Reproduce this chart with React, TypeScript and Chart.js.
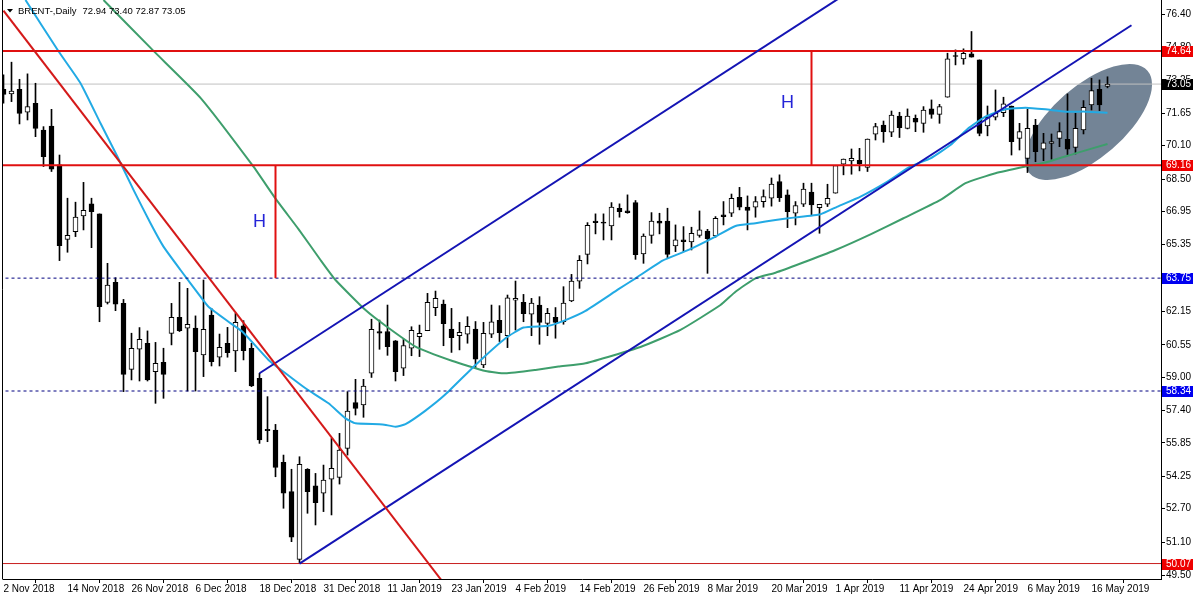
import React, { useEffect, useRef } from "react";
import { Chart, registerables } from "chart.js";

Chart.register(...registerables);

const symbolName = "BRENT-,Daily";

const opens = [
  72.80, 72.58, 72.80, 71.70, 72.13, 70.85, 71.04, 69.18, 65.61, 65.98,
  66.73, 67.31, 66.83, 62.58, 63.55, 62.54, 59.38, 60.34, 60.63, 59.27,
  59.72, 61.10, 61.87, 61.35, 61.35, 60.07, 61.98, 59.96, 60.63, 60.26,
  61.46, 60.39, 58.95, 56.50, 56.47, 54.92, 53.52, 50.27, 54.59, 53.79,
  53.44, 54.11, 54.20, 55.59, 57.78, 57.67, 59.19, 61.19, 61.19, 60.74,
  59.43, 60.39, 60.95, 61.23, 62.34, 62.51, 61.31, 60.99, 61.06, 61.31,
  59.59, 61.06, 61.73, 60.99, 62.69, 62.59, 62.02, 62.46, 61.58, 61.87,
  61.66, 62.66, 63.61, 64.89, 66.49, 66.44, 66.25, 67.10, 66.97, 67.37,
  64.91, 65.80, 66.49, 66.49, 65.29, 65.58, 65.48, 65.80, 66.01, 65.77,
  66.78, 66.86, 67.62, 67.15, 67.15, 67.42, 67.58, 68.38, 67.74, 66.86,
  67.29, 67.87, 67.13, 67.29, 67.82, 69.21, 69.37, 69.40, 69.05, 70.65,
  71.09, 70.74, 71.52, 70.93, 71.41, 71.17, 71.86, 71.60, 72.42, 74.42,
  74.26, 74.50, 74.21, 71.04, 71.46, 71.68, 72.00, 70.45, 69.49, 71.09,
  69.93, 70.21, 70.45, 70.40, 70.02, 70.85, 72.05, 72.80, 72.94,
];
const highs = [
  73.49, 74.10, 73.28, 73.54, 73.09, 71.01, 71.84, 69.65, 67.58, 67.39,
  68.34, 67.58, 66.83, 64.46, 63.77, 62.73, 61.11, 61.38, 61.22, 60.67,
  60.39, 62.54, 63.55, 63.26, 61.94, 63.66, 62.30, 61.07, 61.39, 62.06,
  61.71, 60.63, 59.19, 58.07, 56.74, 55.27, 54.59, 55.19, 54.62, 54.39,
  54.79, 56.07, 56.31, 58.31, 58.90, 58.90, 61.78, 61.74, 62.46, 60.76,
  60.83, 61.42, 61.50, 63.02, 63.13, 62.70, 62.30, 61.63, 61.90, 61.67,
  61.63, 62.46, 62.43, 62.94, 63.61, 62.97, 62.78, 62.86, 62.30, 62.34,
  63.34, 63.93, 64.83, 66.41, 66.83, 66.83, 67.37, 67.31, 67.74, 67.47,
  65.87, 66.89, 66.86, 67.10, 66.30, 66.22, 66.19, 66.97, 66.09, 66.70,
  67.42, 67.78, 68.10, 67.69, 67.66, 67.98, 68.55, 68.70, 67.98, 67.42,
  68.30, 68.30, 67.29, 68.25, 69.14, 69.46, 69.94, 69.97, 70.42, 71.17,
  71.28, 71.76, 71.70, 71.86, 71.57, 71.97, 72.29, 72.08, 74.53, 74.69,
  74.74, 75.57, 74.21, 72.00, 72.77, 72.42, 72.00, 71.17, 71.84, 71.36,
  70.69, 70.66, 71.20, 72.58, 71.65, 72.26, 73.33, 73.25, 73.40,
];
const lows = [
  72.13, 72.21, 71.14, 71.33, 70.53, 69.10, 68.86, 64.59, 64.99, 65.74,
  66.06, 65.21, 61.66, 62.51, 62.19, 58.31, 58.87, 58.82, 58.82, 57.75,
  57.99, 60.55, 61.19, 58.34, 58.34, 59.03, 59.54, 59.54, 59.96, 59.27,
  59.83, 58.55, 55.83, 55.91, 54.23, 52.72, 51.12, 50.07, 52.48, 51.92,
  52.56, 52.40, 53.88, 55.27, 57.19, 57.08, 58.99, 60.34, 60.05, 58.82,
  59.08, 60.03, 59.99, 61.23, 61.95, 60.51, 60.19, 60.31, 60.63, 59.46,
  59.46, 60.90, 60.71, 60.42, 61.26, 61.66, 60.99, 60.58, 60.99, 60.87,
  61.54, 62.62, 63.26, 64.43, 65.87, 65.58, 65.58, 66.67, 66.86, 64.65,
  64.46, 65.42, 65.87, 64.69, 65.02, 65.02, 65.10, 65.71, 63.98, 65.71,
  66.30, 66.70, 67.02, 66.06, 66.67, 67.15, 67.20, 67.42, 66.17, 66.30,
  67.18, 66.78, 65.90, 67.18, 67.82, 68.70, 68.73, 68.89, 68.86, 70.37,
  70.26, 70.53, 70.49, 70.90, 70.77, 70.74, 71.41, 71.17, 72.42, 73.97,
  74.00, 74.34, 70.57, 70.57, 71.33, 71.49, 69.65, 69.89, 68.81, 69.33,
  69.38, 69.45, 70.05, 69.65, 69.70, 70.66, 71.81, 71.78, 72.87,
];
const closes = [
  72.56, 72.71, 71.65, 71.97, 70.93, 69.57, 68.97, 65.31, 65.80, 66.67,
  67.00, 66.94, 62.38, 63.42, 62.50, 59.14, 60.39, 60.82, 58.87, 59.67,
  59.14, 61.87, 61.23, 61.54, 60.23, 61.30, 59.75, 60.43, 60.18, 61.63,
  60.27, 58.58, 55.99, 56.44, 54.68, 53.44, 51.33, 54.82, 53.52, 52.99,
  54.07, 54.63, 55.51, 57.38, 57.51, 58.58, 61.30, 61.11, 60.47, 59.27,
  60.52, 61.25, 61.11, 62.59, 62.78, 61.57, 60.90, 61.15, 61.44, 59.87,
  61.11, 61.66, 61.14, 62.81, 62.78, 62.05, 62.56, 61.63, 62.06, 61.63,
  62.56, 63.61, 64.60, 66.28, 66.41, 66.38, 67.15, 66.94, 66.89, 64.88,
  65.77, 66.49, 66.38, 64.89, 65.58, 65.50, 65.90, 66.06, 65.64, 66.62,
  66.70, 67.58, 67.15, 66.99, 67.42, 67.66, 68.26, 67.61, 66.94, 67.23,
  68.02, 67.26, 67.29, 67.58, 69.14, 69.46, 69.49, 69.24, 70.42, 71.01,
  70.77, 71.57, 70.96, 71.52, 71.22, 71.81, 71.60, 71.97, 74.26, 74.37,
  74.53, 74.34, 70.69, 71.46, 71.65, 72.10, 70.29, 70.77, 70.93, 69.81,
  70.24, 70.29, 70.77, 69.93, 70.93, 71.94, 72.74, 72.05, 73.05,
];

const dateLabels = [
  "2 Nov 2018", "14 Nov 2018", "26 Nov 2018", "6 Dec 2018", "18 Dec 2018",
  "31 Dec 2018", "11 Jan 2019", "23 Jan 2019", "4 Feb 2019", "14 Feb 2019",
  "26 Feb 2019", "8 Mar 2019", "20 Mar 2019", "1 Apr 2019", "11 Apr 2019",
  "24 Apr 2019", "6 May 2019", "16 May 2019",
];
const dateLabelBars = [0, 8, 16, 24, 32, 40, 48, 56, 64, 72, 80, 88, 96, 104, 112, 120, 128, 136];

const priceTicks = [
  49.5, 51.1, 52.7, 54.25, 55.85, 57.4, 59.0, 60.55, 62.15, 63.75,
  65.35, 66.95, 68.5, 70.1, 71.65, 73.25, 74.8, 76.4,
];

// fast moving average (light blue)
const fastMaBars = [
  2.75, 6.875, 9.625, 12.125, 14.25, 16.25, 18.375, 20, 22.125, 24.625, 25.625,
  28.125, 29.875, 33.125, 35.25, 37.75, 40.625, 42.75, 44, 47.375, 49, 50.25, 52.75,
  55.25, 59, 62.75, 65, 68.125, 70.25, 72.75, 76.875, 79, 82.375, 85.625, 89, 91.5,
  94, 96.5, 98.75, 102.125, 104.25, 107.125, 110.5, 113.375, 115.875, 118.375, 120.5,
  122.75, 125.25, 127.75, 130.25, 132.75, 135.25, 138,
];
const fastMaValues = [
  77.08, 74.62, 73.09, 71.17, 69.57, 67.98, 66.38, 65.26, 64.14, 62.86, 62.38,
  61.66, 61.18, 59.83, 59.19, 58.47, 57.75, 57.03, 56.79, 56.74, 56.63, 56.75, 57.4,
  58.18, 59.59, 60.87, 61.38, 61.47, 61.74, 62.18, 63.22, 63.74, 64.59, 65.1, 65.74, 66.25,
  66.38, 66.54, 66.65, 66.81, 67.18, 67.66, 68.38, 69.1, 69.49, 70.13, 70.9,
  71.49, 71.84, 71.92, 71.84, 71.73, 71.73, 71.68,
];

// slow moving average (green)
const slowMaBars = [
  12.5, 18.75, 24.625, 31.25, 34, 36.875, 39.625, 41.5, 45.25, 47.75, 51.5, 56.125,
  60.25, 62.75, 66.5, 69.375, 72.75, 79.625, 84.625, 89.625, 91.5, 94, 96.5, 99.625,
  104, 108.375, 112.5, 117.125, 120.25, 124, 127.75, 130.25, 134, 138,
];
const slowMaValues = [
  77.08, 74.64, 72.39, 69.09, 67.56, 66.1, 64.62, 63.66, 62.22, 61.47, 60.47, 59.78,
  59.3, 59.19, 59.35, 59.51, 59.67, 60.45, 61.27, 62.46, 63.1, 63.74, 64.01, 64.45,
  65.1, 65.85, 66.62, 67.5, 68.3, 68.78, 69.1, 69.29, 69.73, 70.18,
];

// horizontal levels
const resistanceLevels = [74.64, 69.16];
const supportLow = 50.07;
const lastPrice = 73.05;
const dottedLevels = [63.75, 58.34];

// trend lines: [startBar, startPrice, endBar, endPrice]
const redTrend = [0, 76.57, 60, 46.65];
const upperChannel = [32, 59.19, 110, 78.54];
const lowerChannel = [37, 50.07, 141, 75.87];
// height markers: [bar, fromPrice, toPrice]
const heightMarkerA = [34, 63.75, 69.16];
const heightMarkerB = [101, 69.16, 74.64];
const heightLabelBars = [32, 98];
const heightLabelPrices = [66.44, 72.15];

// highlighted zone (ellipse): major axis end points
const ellipseBars = [128.25, 143];
const ellipsePrices = [68.78, 73.69];
const ellipseRatio = 0.46;

const axisBoxes = [
  { value: 74.64, color: "#EE0000" },
  { value: 73.05, color: "#000000" },
  { value: 69.16, color: "#EE0000" },
  { value: 63.75, color: "#0000F0" },
  { value: 58.34, color: "#0000F0" },
  { value: 50.07, color: "#EE0000" },
];

const FONT = '"Liberation Sans", Arial, sans-serif';

function seg(a: number[], color: string, width: number, order: number, dash?: number[]) {
  return {
    type: "line" as const,
    data: [
      { x: a[0], y: a[1] },
      { x: a[2], y: a[3] },
    ],
    borderColor: color,
    borderWidth: width,
    borderDash: dash || [],
    pointRadius: 0,
    fill: false,
    order,
  };
}

export default function App() {
  const ref = useRef<HTMLCanvasElement>(null);

  useEffect(() => {
    const canvas = ref.current;
    if (!canvas) return;
    const bars = opens.map((_, i) => i);
    const last = opens.length - 1;
    const ohlcText = [opens[last], highs[last], lows[last], closes[last]].map((v) => v.toFixed(2)).join(" ");

    const overlay = {
      id: "overlay",
      beforeDatasetsDraw(chart: any) {
        const { ctx, chartArea, scales } = chart;
        const xs = scales.x;
        const ys = scales.y;
        ctx.save();
        ctx.beginPath();
        ctx.rect(chartArea.left, chartArea.top, chartArea.right - chartArea.left, chartArea.bottom - chartArea.top);
        ctx.clip();
        const x1 = xs.getPixelForValue(ellipseBars[0]);
        const y1 = ys.getPixelForValue(ellipsePrices[0]);
        const x2 = xs.getPixelForValue(ellipseBars[1]);
        const y2 = ys.getPixelForValue(ellipsePrices[1]);
        const a = Math.hypot(x2 - x1, y2 - y1) / 2;
        ctx.beginPath();
        ctx.ellipse((x1 + x2) / 2, (y1 + y2) / 2, a, a * ellipseRatio, Math.atan2(y2 - y1, x2 - x1), 0, Math.PI * 2);
        ctx.fillStyle = "#738496";
        ctx.fill();
        ctx.restore();
      },
      afterDatasetsDraw(chart: any) {
        const { ctx, scales } = chart;
        ctx.save();
        ctx.font = `18px ${FONT}`;
        ctx.fillStyle = "#2424D8";
        ctx.textAlign = "center";
        ctx.textBaseline = "middle";
        heightLabelBars.forEach((b, k) => {
          ctx.fillText("H", scales.x.getPixelForValue(b), scales.y.getPixelForValue(heightLabelPrices[k]));
        });
        ctx.restore();
      },
      afterDraw(chart: any) {
        const { ctx, chartArea, scales } = chart;
        ctx.save();
        // left frame
        ctx.strokeStyle = "#000";
        ctx.lineWidth = 1;
        ctx.beginPath();
        ctx.moveTo(chartArea.left - 0.5, chartArea.top);
        ctx.lineTo(chartArea.left - 0.5, chartArea.bottom + 0.5);
        ctx.stroke();
        // title
        ctx.fillStyle = "#000";
        ctx.beginPath();
        ctx.moveTo(7, 9);
        ctx.lineTo(13, 9);
        ctx.lineTo(10, 12.5);
        ctx.closePath();
        ctx.fill();
        ctx.font = `9.5px ${FONT}`;
        ctx.textBaseline = "middle";
        ctx.textAlign = "left";
        ctx.fillText(symbolName, 18, 11);
        const w = ctx.measureText(symbolName).width;
        ctx.fillText(ohlcText, 18 + w + 6, 11);
        // axis boxes
        ctx.font = `10px ${FONT}`;
        const left = chartArea.right + 1;
        axisBoxes.forEach((b) => {
          const yp = Math.round(scales.y.getPixelForValue(b.value));
          ctx.fillStyle = b.color;
          ctx.fillRect(left, yp - 5, 31, 11);
          ctx.fillStyle = "#fff";
          ctx.fillText(b.value.toFixed(2), left + 4, yp + 0.5);
        });
        ctx.restore();
      },
    };

    const gridCfg = {
      display: true,
      drawOnChartArea: false,
      drawTicks: true,
      tickLength: 4,
      color: "#000",
      tickColor: "#000",
    };

    const chart = new Chart(canvas, {
      type: "bar",
      data: {
        datasets: [
          // trend lines on top
          seg(redTrend, "#D41A1A", 2, 0),
          seg(upperChannel, "#1414B4", 2, 0),
          seg(lowerChannel, "#1414B4", 2, 0),
          seg([heightMarkerA[0], heightMarkerA[1], heightMarkerA[0], heightMarkerA[2]], "#E01010", 2, 0),
          seg([heightMarkerB[0], heightMarkerB[1], heightMarkerB[0], heightMarkerB[2]], "#E01010", 2, 0),
          ...resistanceLevels.map((v) => seg([-2, v, 150, v], "#E01010", 2, 0)),
          seg([-2, supportLow, 150, supportLow], "#C81E1E", 1, 0),
          ...dottedLevels.map((v) => seg([-2, v, 150, v], "#000080", 1, 0, [3, 3])),
          // moving averages
          {
            type: "line" as const,
            data: fastMaBars.map((b, k) => ({ x: b, y: fastMaValues[k] })),
            borderColor: "#22AAE4",
            borderWidth: 2,
            pointRadius: 0,
            tension: 0.15,
            fill: false,
            order: 1,
          },
          {
            type: "line" as const,
            data: slowMaBars.map((b, k) => ({ x: b, y: slowMaValues[k] })),
            borderColor: "#3E9E6C",
            borderWidth: 2,
            pointRadius: 0,
            tension: 0.15,
            fill: false,
            order: 1,
          },
          // candle bodies
          {
            type: "bar" as const,
            data: bars.map((i) => ({ x: i, y: [opens[i], closes[i]] })),
            backgroundColor: bars.map((i) => (closes[i] >= opens[i] ? "#FFFFFF" : "#000000")),
            borderColor: "#000",
            borderWidth: 1,
            borderSkipped: false,
            barThickness: 5,
            grouped: false,
            order: 2,
          },
          // wicks
          {
            type: "bar" as const,
            data: bars.map((i) => ({ x: i, y: [lows[i], highs[i]] })),
            backgroundColor: "#000",
            borderWidth: 0,
            barThickness: 1,
            grouped: false,
            order: 3,
          },
          // last price line
          { ...seg([-2, lastPrice, 150, lastPrice], "#C0C0C0", 1, 4) },
        ] as any,
      },
      options: {
        responsive: false,
        devicePixelRatio: 1,
        animation: false,
        events: [],
        layout: { padding: { left: 3, top: 0, right: 0, bottom: 0 } },
        plugins: { legend: { display: false }, tooltip: { enabled: false } },
        scales: {
          x: {
            type: "linear",
            offset: false,
            min: -0.0625,
            max: 144.6875,
            afterBuildTicks: (axis: any) => {
              axis.ticks = dateLabelBars.map((v) => ({ value: v }));
            },
            afterFit: (axis: any) => {
              axis.height = 21;
              axis.paddingLeft = 0;
              axis.paddingRight = 0;
            },
            grid: gridCfg,
            border: { display: true, color: "#000", width: 1 },
            ticks: {
              autoSkip: false,
              maxRotation: 0,
              minRotation: 0,
              align: "start",
              padding: 0,
              color: "#000",
              font: { family: FONT, size: 10 },
              callback: (_v: any, idx: number) => dateLabels[idx],
            },
          },
          y: {
            type: "linear",
            position: "right",
            min: 49.33,
            max: 77.08,
            afterBuildTicks: (axis: any) => {
              axis.ticks = priceTicks.map((v) => ({ value: v }));
            },
            afterFit: (axis: any) => {
              axis.width = 39;
              axis.paddingTop = 0;
              axis.paddingBottom = 0;
            },
            grid: gridCfg,
            border: { display: true, color: "#000", width: 1 },
            ticks: {
              autoSkip: false,
              padding: 1,
              color: "#000",
              font: { family: FONT, size: 10 },
              callback: (v: any) => Number(v).toFixed(2),
            },
          },
        },
      } as any,
      plugins: [overlay],
    });
    return () => chart.destroy();
  }, []);

  return (
    <div style={{ position: "fixed", left: 0, top: 0, width: 1200, height: 600, background: "#fff" }}>
      <canvas ref={ref} width={1200} height={600} style={{ display: "block", width: 1200, height: 600 }} />
    </div>
  );
}
